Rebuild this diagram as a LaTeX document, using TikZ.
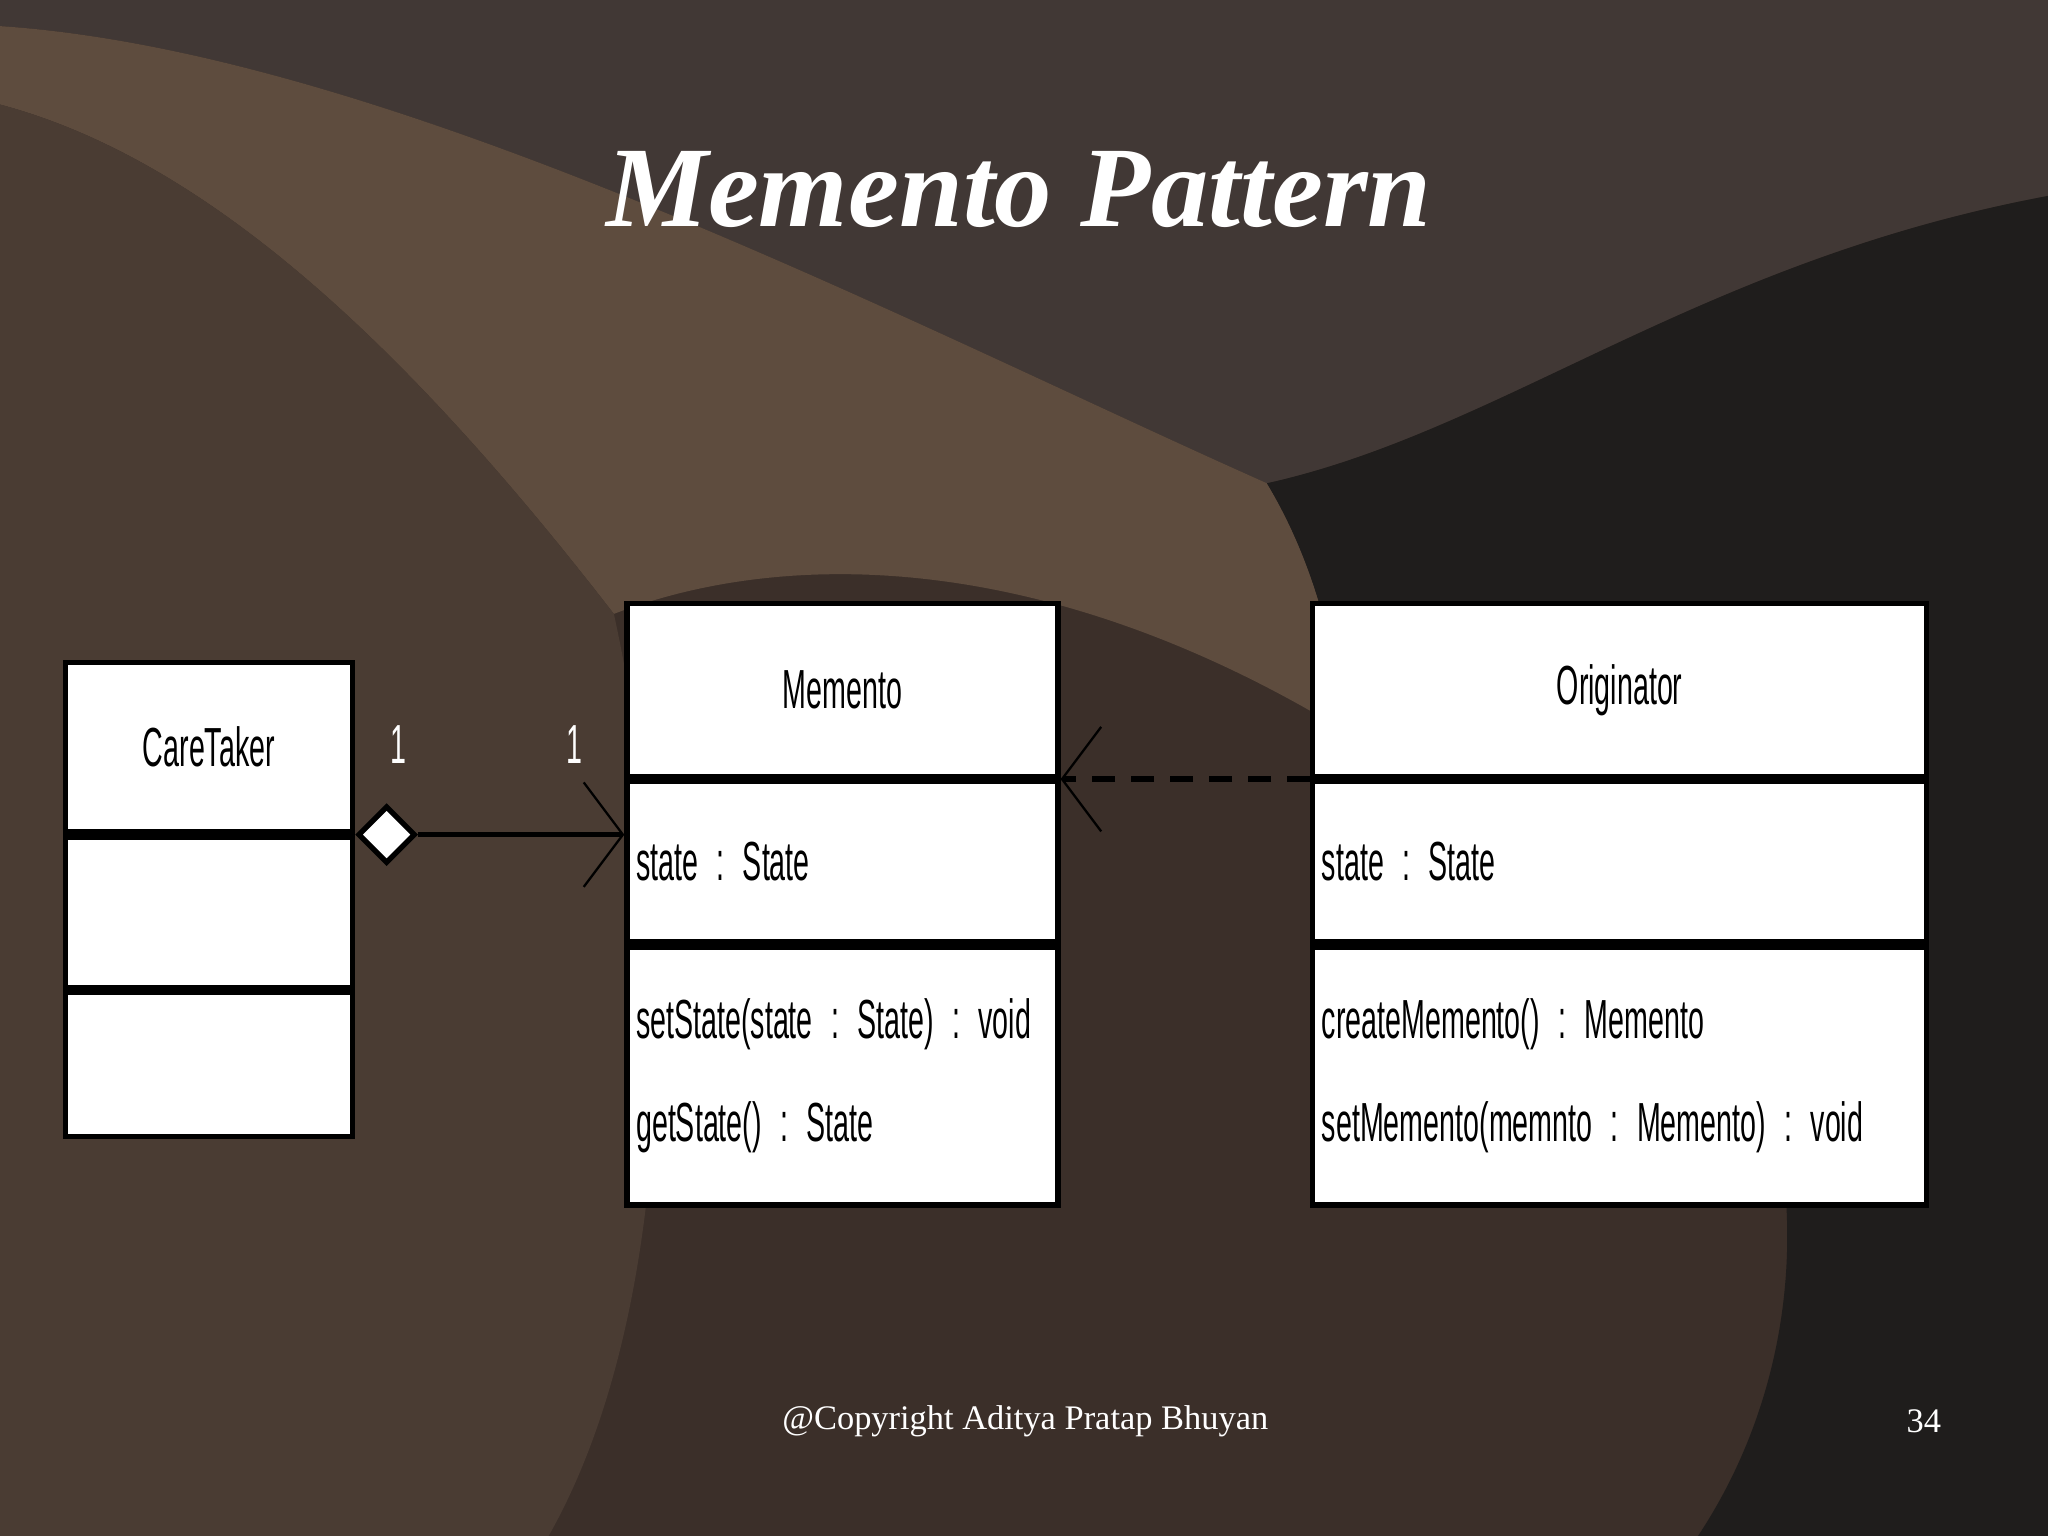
\documentclass[tikz,border=0pt]{standalone}
\usepackage{fontspec}
\setmainfont{Liberation Serif}
\newfontfamily\umlfont[FakeStretch=0.52]{Liberation Sans}
\newcommand\umlsize{\umlfont\fontsize{24}{45}\selectfont\frenchspacing\spaceskip=0.12em\xspaceskip=0.12em\relax}
\usetikzlibrary{positioning,arrows.meta,shapes.geometric}
\definecolor{bgbase}{HTML}{3B2F29}
\definecolor{bgtop}{HTML}{413835}
\definecolor{bglight}{HTML}{5E4C3E}
\definecolor{bgmid}{HTML}{4A3C33}
\definecolor{bgdark}{HTML}{1F1D1C}
\tikzset{
  compart/.style={draw,fill=white,line width=2.3pt,inner sep=0pt,anchor=north,font=\umlsize},
  attrs/.style={compart,align=left,inner xsep=4pt},
  barb/.style={-{Straight Barb[length=0.6cm,width=1.6cm,line width=1pt]}}
}
\begin{document}
\begin{tikzpicture}[x=0.02cm,y=-0.02cm]
\useasboundingbox (0,0) rectangle (1568,1176);
% background
\fill[bgbase] (0,0) rectangle (1568,1176);
\fill[bgtop] (0,0) -- (1568,0) -- (1568,150) .. controls (1300,200) and (1150,330) .. (970,370) .. controls (700,250) and (300,40) .. (0,20) -- cycle;
\fill[bglight] (0,20) .. controls (300,40) and (700,250) .. (970,370) .. controls (1000,420) and (1020,480) .. (1030,560) .. controls (800,420) and (600,420) .. (470,470) .. controls (300,250) and (150,120) .. (0,80) -- cycle;
\fill[bgmid] (0,80) .. controls (150,120) and (300,250) .. (470,470) .. controls (520,700) and (520,1000) .. (420,1176) -- (0,1176) -- cycle;
\fill[bgdark] (970,370) .. controls (1150,330) and (1300,200) .. (1568,150) -- (1568,1176) -- (1300,1176) .. controls (1450,950) and (1350,600) .. (1030,560) .. controls (1020,480) and (1000,420) .. (970,370) -- cycle;
% title
\node[text=white,font=\bfseries\itshape\fontsize{50}{56}\selectfont] (title) at (780,145) {Memento Pattern};
% CareTaker
\node[compart,minimum width=4.4cm,minimum height=2.6cm] (ct) at (160,505) {CareTaker};
\node[compart,minimum width=4.4cm,minimum height=2.3cm] (ctattr) [below=0pt of ct] {};
\node[compart,minimum width=4.4cm,minimum height=2.2cm] (ctops) [below=0pt of ctattr] {};
% Memento
\node[compart,minimum width=6.6cm,minimum height=2.65cm] (mem) at (645,460) {Memento};
\node[attrs,text width=6.6cm-8pt,minimum height=2.45cm] (memattr) [below=0pt of mem] {state : State};
\node[attrs,text width=6.6cm-8pt,minimum height=3.95cm] (memops) [below=0pt of memattr] {setState(state : State) : void\\getState() : State};
% Originator
\node[compart,minimum width=9.4cm,minimum height=2.65cm] (orig) at (1240,460) {Originator};
\node[attrs,text width=9.4cm-8pt,minimum height=2.45cm] (origattr) [below=0pt of orig] {state : State};
\node[attrs,text width=9.4cm-8pt,minimum height=3.95cm] (origops) [below=0pt of origattr] {createMemento() : Memento\\setMemento(memnto : Memento) : void};
% connectors
\node[diamond,draw,fill=white,line width=2.3pt,minimum width=0.88cm,minimum height=0.88cm,inner sep=0pt,anchor=west] (agg) at (ctattr.north east) {};
\draw[barb,line width=2.3pt] (agg.east) -- (agg.east -| memattr.west);
\node[text=white,font=\umlsize] (m1) at (305,570) {1};
\node[text=white,font=\umlsize] (m2) at (440,570) {1};
\draw[barb,line width=2.3pt,dashed,dash pattern=on 10pt off 7pt] (origattr.north west) -- (memattr.north east);
% footer
\node[text=white,font=\fontsize{15}{18}\selectfont] (copy) at (785,1088) {@Copyright Aditya Pratap Bhuyan};
\node[text=white,font=\fontsize{15}{18}\selectfont] (page) at (1473,1088) {34};
\end{tikzpicture}
\end{document}
